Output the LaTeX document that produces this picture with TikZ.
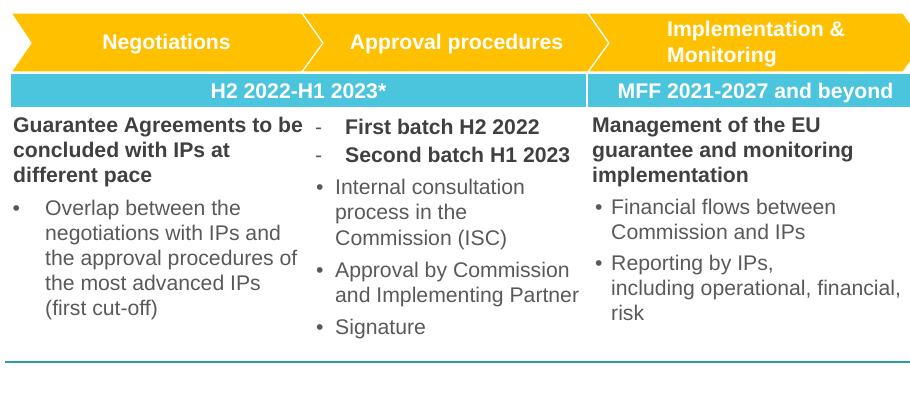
\documentclass[tikz,border=0pt]{standalone}
\usepackage{fontspec}
\setmainfont{Liberation Sans}
\definecolor{chevyellow}{HTML}{FFC000}
\definecolor{bandblue}{HTML}{4BC4DD}
\definecolor{headgray}{HTML}{404040}
\definecolor{bodygray}{HTML}{595959}
\definecolor{ruleteal}{HTML}{2A9FA2}
\begin{document}
\begin{tikzpicture}[x=1pt,y=-1pt,
  chevron/.style={fill=chevyellow,draw=white,line width=1.2pt,line join=miter},
  phase/.style={text=white,font=\fontsize{21.2}{26}\selectfont\bfseries,inner sep=0pt},
  period/.style={text=white,font=\fontsize{21.2}{25}\selectfont\bfseries,inner sep=0pt,anchor=base},
  headline/.style={text=headgray,font=\fontsize{21.2}{25}\selectfont\bfseries,inner sep=0pt,anchor=base west},
  bodyline/.style={text=bodygray,font=\fontsize{21.2}{25}\selectfont,inner sep=0pt,anchor=base west},
]
\useasboundingbox (0,0) rectangle (910,394);

% phase chevrons
\begin{scope}
  \clip (0,0) rectangle (910,394);
  \draw[chevron] (11,13) -- (302,13) -- (323,43) -- (302,72) -- (11,72) -- (31,43) -- cycle;
  \draw[chevron] (302,13) -- (588,13) -- (609,43) -- (588,72) -- (302,72) -- (323,43) -- cycle;
  \draw[chevron] (588,13) -- (903,13) -- (924,43) -- (903,72) -- (588,72) -- (609,43) -- cycle;
\end{scope}
\node[phase,anchor=base] (neg) at (166.5,49) {Negotiations};
\node[phase,anchor=base] (appr) at (456.5,49) {Approval procedures};
\node[phase,anchor=base west] (impl1) at (667,36) {Implementation \&};
\node[phase,anchor=base west] (impl2) at (667,62) {Monitoring};

% period band
\fill[bandblue] (11,74) rectangle (910,107);
\draw[white,line width=1.5pt] (587,74) -- (587,107);
\node[period] (h2) at (298.5,98) {H2 2022-H1 2023*};
\node[period] (mff) at (755.5,98) {MFF 2021-2027 and beyond};

% column 1: negotiations
\foreach \t [count=\i from 0] in {Guarantee Agreements to be, concluded with IPs at, different pace}
  \node[headline] (gah\i) at (13,{132+25*\i}) {\t};
\node[bodyline] (gabul) at (12.5,215) {•};
\foreach \t [count=\i from 0] in {Overlap between the, negotiations with IPs and, the approval procedures of, the most advanced IPs, (first cut-off)}
  \node[bodyline] (gab\i) at (45,{215+25*\i}) {\t};

% column 2: approval procedures
\node[bodyline] (bd1) at (315,134) {-};
\node[headline] (bt1) at (345,134) {First batch H2 2022};
\node[bodyline] (bd2) at (315,162) {-};
\node[headline] (bt2) at (345,162) {Second batch H1 2023};
\node[bodyline] (apb1) at (316,194) {•};
\foreach \t [count=\i from 0] in {Internal consultation, process in the, Commission (ISC)}
  \node[bodyline] (isc\i) at (335,{194+25.5*\i}) {\t};
\node[bodyline] (apb2) at (316,277) {•};
\foreach \t [count=\i from 0] in {Approval by Commission, and Implementing Partner}
  \node[bodyline] (apc\i) at (335,{277+25.5*\i}) {\t};
\node[bodyline] (apb3) at (316,334) {•};
\node[bodyline] (sig) at (335,334) {Signature};

% column 3: implementation and monitoring
\foreach \t [count=\i from 0] in {Management of the EU, guarantee and monitoring, implementation}
  \node[headline] (mgh\i) at (592,{132+25*\i}) {\t};
\node[bodyline] (mgb1) at (595,214) {•};
\foreach \t [count=\i from 0] in {Financial flows between, Commission and IPs}
  \node[bodyline] (ff\i) at (611,{214+25*\i}) {\t};
\node[bodyline] (mgb2) at (595,270) {•};
\foreach \t [count=\i from 0] in {{Reporting by IPs,}, {including operational, financial,}, risk}
  \node[bodyline] (rp\i) at (611,{270+25*\i}) {\t};

% closing rule
\draw[ruleteal,line width=1.6pt] (5,362) -- (910,362);
\end{tikzpicture}
\end{document}
